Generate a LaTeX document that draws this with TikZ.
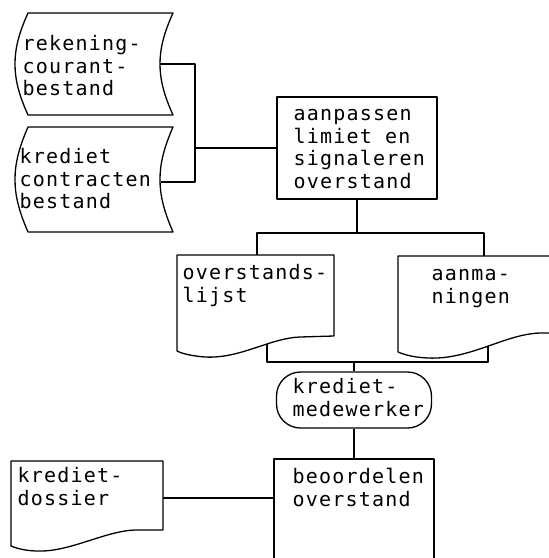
\documentclass[tikz,border=0pt]{standalone}
\usepackage{fontspec}
\newfontfamily\flowfont{DejaVu Sans Mono}[LetterSpace=6.0]
\begin{document}
\begin{tikzpicture}[x=1pt,y=-1pt,line width=1.3pt,line join=round,
  shapeline/.style={draw=black,fill=white},
  proc/.style={draw=black,fill=white,rectangle,inner sep=0pt},
  term/.style={draw=black,fill=white,rectangle,rounded corners=24pt,inner sep=0pt},
  lbl/.style={anchor=north west,inner sep=0pt,align=left,
    font=\flowfont\fontsize{20}{22.5}\selectfont}]
\useasboundingbox (0,0) rectangle (549,558);
\clip (0,0) rectangle (549,558);

% connection points
\coordinate (rc-out) at (160,64);
\coordinate (kc-out) at (160.5,182);
\coordinate (j1) at (195,148);
\coordinate (j2) at (357,233);
\coordinate (d1-top) at (257,255);
\coordinate (d2-top) at (484,256);
\coordinate (d1-bot) at (267,340);
\coordinate (d2-bot) at (488,340);
\coordinate (j3) at (354,362);
\coordinate (dos-out) at (163,498);

% process and terminal symbols
\node[proc,minimum width=160pt,minimum height=102pt] (upd) at (357,148) {};
\node[term,minimum width=155pt,minimum height=56pt] (kmw) at (354,400) {};
\node[proc,minimum width=160pt,minimum height=116pt] (beo) at (354,517) {};

% connectors
\draw (rc-out) -| (j1) |- (kc-out);
\draw (j1) -- (upd.west);
\draw (upd.south) -- (j2);
\draw (d1-top) |- (j2) -| (d2-top);
\draw (d1-bot) |- (j3) -| (d2-bot);
\draw (j3) -- (kmw.north);
\draw (kmw.south) -- (beo.north);
\draw (dos-out) -- (dos-out -| beo.west);

% stored data files
\path[shapeline] (28,13) -- (173,13)
  .. controls (163,35) and (160,50) .. (160,64)
  .. controls (160,78) and (163,93) .. (173,115)
  -- (28,115)
  .. controls (18,93) and (15,78) .. (15,64)
  .. controls (15,50) and (18,35) .. (28,13) -- cycle;
\path[shapeline] (28,127) -- (173,127)
  .. controls (163,150) and (160,165) .. (160,179.5)
  .. controls (160,194) and (163,209) .. (173,232)
  -- (28,232)
  .. controls (18,209) and (15,194) .. (15,179.5)
  .. controls (15,165) and (18,150) .. (28,127) -- cycle;

% documents
\path[shapeline] (177,255) -- (334,255) -- (334,336) -- (300,337)
  .. controls (270,338) and (240,359) .. (205,357)
  .. controls (193,356) and (183,354) .. (177,351) -- cycle;
\path[shapeline] (398,256) -- (560,256) -- (560,333) -- (540,333)
  .. controls (505,334) and (470,360) .. (428,358)
  .. controls (415,357.5) and (405,355) .. (398,352) -- cycle;
\path[shapeline] (11,461) -- (163,461) -- (163,530) -- (135,530)
  .. controls (105,531) and (70,552) .. (38,551)
  .. controls (28,551) and (18,549) .. (11,546) -- cycle;

% texts
\node[lbl] (rc-t) at (22,35) {\rule{0pt}{15pt}rekening-\\courant-\\bestand};
\node[lbl] (kc-t) at (19,148) {\rule{0pt}{15pt}krediet\\contracten\\bestand};
\node[lbl] (upd-t) at (293,105) {\rule{0pt}{15pt}aanpassen\\limiet en\\signaleren\\overstand};
\node[lbl] (d1-t) at (182,264) {\rule{0pt}{15pt}overstands-\\lijst};
\node[lbl] (d2-t) at (431,265) {\rule{0pt}{15pt}aanma-\\ningen};
\node[lbl] (kmw-t) at (292,378) {\rule{0pt}{15pt}krediet-\\medewerker};
\node[lbl] (dos-t) at (17,467) {\rule{0pt}{15pt}krediet-\\dossier};
\node[lbl] (beo-t) at (292,468) {\rule{0pt}{15pt}beoordelen\\overstand};
\end{tikzpicture}
\end{document}
